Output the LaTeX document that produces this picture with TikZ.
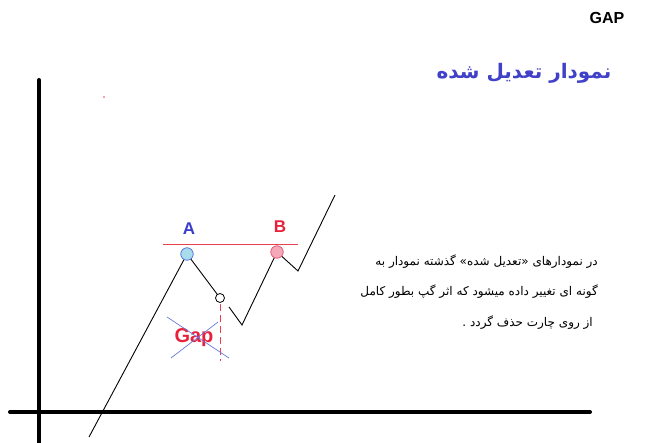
\documentclass[tikz,border=0pt]{standalone}
\usepackage{fontspec}
\setmainfont{Liberation Sans}
\newfontfamily\arabicfont[Script=Arabic]{DejaVu Sans}
\TeXXeTstate=1
\definecolor{axisblack}{HTML}{000000}
\definecolor{titleblue}{HTML}{4040C8}
\definecolor{lblblue}{HTML}{3C3CCC}
\definecolor{lblred}{HTML}{E8203A}
\definecolor{levelred}{HTML}{E84050}
\definecolor{afill}{HTML}{A8DCEC}
\definecolor{aline}{HTML}{4A6AD8}
\definecolor{bfill}{HTML}{F4A8B8}
\definecolor{bline}{HTML}{E05070}
\definecolor{crossblue}{HTML}{6A78D8}
\tikzset{
  axisline/.style={line width=4pt, line cap=round, axisblack},
  priceline/.style={line width=0.9pt, black},
  ptA/.style={circle, draw=aline, fill=afill, line width=0.7pt, inner sep=0pt, minimum size=12.5pt},
  ptB/.style={circle, draw=bline, fill=bfill, line width=0.7pt, inner sep=0pt, minimum size=12.5pt},
  ptH/.style={circle, draw=black, fill=white, line width=0.8pt, inner sep=0pt, minimum size=9pt},
  lbl/.style={font=\bfseries\fontsize{17}{19}\selectfont, inner sep=0pt},
  fatxt/.style={font=\arabicfont\fontsize{12}{14}\selectfont, inner sep=0pt, anchor=east},
}
\begin{document}
\begin{tikzpicture}[x=1pt,y=-1pt]
\useasboundingbox (0,0) rectangle (647,443);
% title
\node[font=\bfseries\fontsize{16}{18}\selectfont, inner sep=0pt] (gap) at (607,18) {GAP};
\node[font=\arabicfont\bfseries\fontsize{20}{22}\selectfont, text=titleblue, inner sep=0pt] (title) at (524,73) {\beginR نمودار تعدیل شده\endR};
% stray dot
\fill[levelred] (104,97) circle (0.8pt);
% axes
\coordinate (ytop) at (39,80);
\coordinate (ybot) at (39,450);
\coordinate (xl) at (10,412);
\coordinate (xr) at (590,412);
\draw[axisline] (ytop) -- (ybot);
\draw[axisline] (xl) -- (xr);
% price path
\coordinate (p0) at (89,437);
\coordinate (a) at (187,254);
\coordinate (h) at (220,298);
\coordinate (r) at (229,307);
\coordinate (v) at (242,325);
\coordinate (b) at (277,252);
\coordinate (v2) at (298,271);
\coordinate (pe) at (335,195);
\draw[priceline] (p0) -- (a) -- (h);
\draw[priceline] (r) -- (v) -- (b) -- (v2) -- (pe);
% level line
\coordinate (ll) at (163,244);
\coordinate (lr) at (298,244);
\draw[levelred, line width=0.9pt] (ll) -- (lr);
% dashed
\coordinate (dt) at (220,304);
\coordinate (db) at (220,361);
\draw[levelred, line width=0.9pt, dash pattern=on 7pt off 4pt] (dt) -- (db);
% points
\node[ptA] (A) at (a) {};
\node[ptB] (B) at (b) {};
\node[ptH] (H) at (h) {};
\node[lbl, text=lblblue] (Alabel) at (189,229) {A};
\node[lbl, text=lblred] (Blabel) at (280,227) {B};
% gap text and cross
\node[font=\bfseries\fontsize{20}{22}\selectfont, text=lblred, inner sep=0pt] (gaptxt) at (194,338) {Gap};
\coordinate (c1) at (167,317);
\coordinate (c2) at (229,358);
\coordinate (c3) at (171,358);
\coordinate (c4) at (218,322);
\draw[crossblue, line width=0.7pt] (c1) -- (c2);
\draw[crossblue, line width=0.7pt] (c3) -- (c4);
% paragraph
\node[fatxt] (l1) at (598,262) {\beginR در نمودارهای «تعدیل شده» گذشته نمودار به\endR};
\node[fatxt] (l2) at (598,292) {\beginR گونه ای تغییر داده میشود که اثر گپ بطور کامل\endR};
\node[fatxt] (l3) at (593,323) {\beginR از روی چارت حذف گردد .\endR};
\end{tikzpicture}
\end{document}
